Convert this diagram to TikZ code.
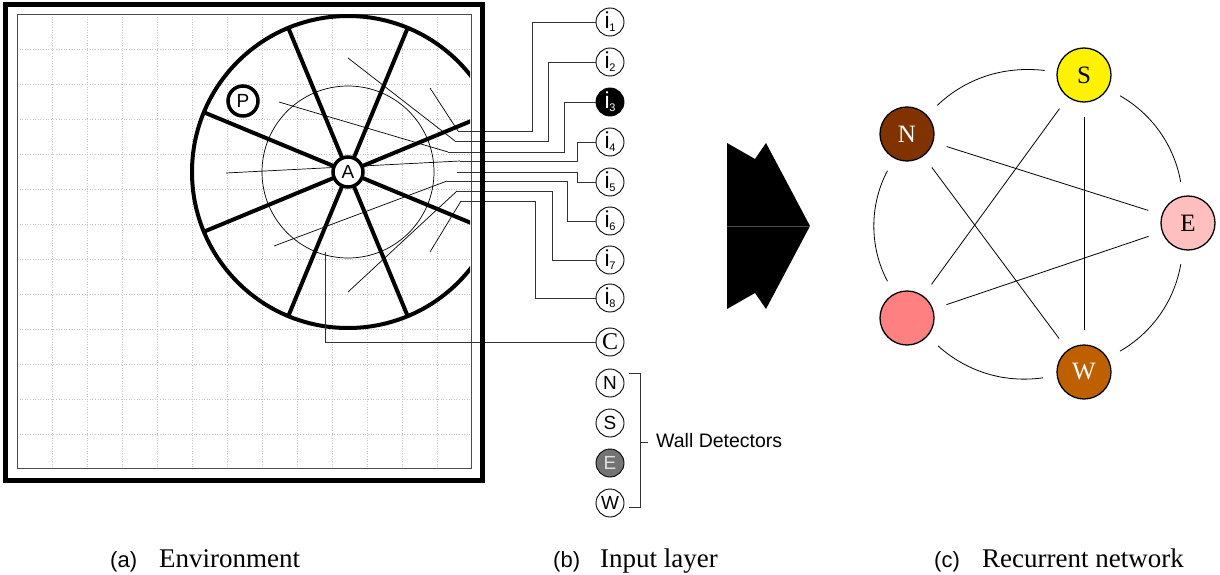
\documentclass[tikz,border=0pt]{standalone}
\usepackage{fontspec}
\setmainfont{Liberation Serif}
\setsansfont{Liberation Sans}
\usetikzlibrary{calc}
\definecolor{nbrown}{RGB}{128,51,0}
\definecolor{wbrown}{RGB}{191,96,0}
\definecolor{epink}{RGB}{255,191,191}
\definecolor{upink}{RGB}{255,128,128}
\newcommand{\isub}[1]{i\kern-0.3pt\raisebox{-3pt}{\fontsize{11}{11}\selectfont #1}}
\begin{document}
\begin{tikzpicture}[x=1pt,y=-1pt,
  gridl/.style={gray!45,dotted,line width=0.6pt},
  heavy/.style={line width=4pt},
  ray/.style={line width=0.7pt,black},
  wire/.style={line width=0.7pt,black!80},
  inode/.style={circle,draw,line width=0.9pt,minimum size=28pt,inner sep=0pt,fill=white,font=\sffamily\fontsize{23}{23}\selectfont},
  wnode/.style={circle,draw,line width=0.9pt,minimum size=28pt,inner sep=0pt,fill=white,font=\sffamily\fontsize{19}{19}\selectfont},
  agent/.style={circle,draw,line width=3.5pt,minimum size=30pt,inner sep=0pt,fill=white,font=\sffamily\fontsize{19}{19}\selectfont},
  rnode/.style={circle,draw,line width=1.3pt,minimum size=54pt,inner sep=0pt,font=\fontsize{25}{25}\selectfont},
  redge/.style={line width=0.8pt,shorten <=14pt,shorten >=14pt},
  capl/.style={anchor=base west,inner sep=0pt,font=\sffamily\fontsize{22}{22}\selectfont},
  capt/.style={anchor=base west,inner sep=0pt,font=\fontsize{27}{27}\selectfont}
]
\useasboundingbox (0,0) rectangle (1220,575);

% ---------- (a) environment ----------
\foreach \k in {1,...,12} {
  \draw[gridl] ({17+35*\k},14) -- ({17+35*\k},468);
  \draw[gridl] (17,{14+35*\k}) -- (471,{14+35*\k});
}
\draw[black!70,line width=0.8pt] (17,14) rectangle (471,468);

\coordinate (Ac) at (348,172);
\draw[line width=0.7pt] (Ac) circle[radius=86pt];

% rays
\coordinate (r1s) at (430,88);  \coordinate (r1) at (458,131);
\coordinate (r2s) at (348,58);  \coordinate (r2) at (455,141);
\coordinate (r3s) at (279,102); \coordinate (r3) at (448,152);
\coordinate (r4s) at (226,173); \coordinate (r4) at (460,161);
\coordinate (r5) at (457,172);
\coordinate (r6s) at (274,246); \coordinate (r6) at (447,181);
\coordinate (r7s) at (348,292); \coordinate (r7) at (457,191);
\coordinate (r8s) at (430,252); \coordinate (r8) at (461,201);
\coordinate (rc) at (325,252);
\foreach \n in {1,2,3,4,6,7,8} \draw[ray] (r\n s) -- (r\n);

\begin{scope}
  \clip (17,0) rectangle (470,480);
  \draw[heavy] (Ac) circle[radius=156pt];
  \foreach \a in {22.5,67.5,...,337.5} \draw[heavy] (Ac) -- ++(\a:156);
\end{scope}

\node[agent] (A) at (Ac) {A};
\node[agent] (P) at (243,101) {P};

% ---------- (b) input layer ----------
\node[inode] (i1) at (610,22) {\isub{1}};
\node[inode] (i2) at (610,62) {\isub{2}};
\node[inode,fill=black,text=white] (i3) at (610,102) {\isub{3}};
\node[inode] (i4) at (610,142) {\isub{4}};
\node[inode] (i5) at (610,182) {\isub{5}};
\node[inode] (i6) at (610,221) {\isub{6}};
\node[inode] (i7) at (610,260) {\isub{7}};
\node[inode] (i8) at (610,298) {\isub{8}};
\node[inode,font=\fontsize{24}{24}\selectfont] (C) at (610,342) {C};

\draw[wire] (r1) -- (532,131) |- (i1.west);
\draw[wire] (r2) -- (548,141) |- (i2.west);
\draw[wire] (r3) -- (564,152) |- (i3.west);
\draw[wire] (r4) -- (577,161) |- (i4.west);
\draw[wire] (r5) -- (577,172) |- (i5.west);
\draw[wire] (r6) -- (567,181) |- (i6.west);
\draw[wire] (r7) -- (552,191) |- (i7.west);
\draw[wire] (r8) -- (535,201) |- (i8.west);
\draw[wire] (rc) |- (C.west);

\draw[line width=5pt] (5,5) rectangle (482,480);

\node[wnode] (wN) at (610,383) {N};
\node[wnode] (wS) at (610,423) {S};
\node[wnode,fill=black!55,text=black!12] (wE) at (610,463) {E};
\node[wnode] (wW) at (610,503) {W};
\coordinate (bt) at (629,373);
\coordinate (bb) at (629,507);
\draw[wire] (bt) -- (640,373) -- (640,507) -- (bb);
\draw[wire] (640,442) -- (648,442);
\node[anchor=west,inner sep=0pt,font=\sffamily\fontsize{19.5}{20}\selectfont] (wd) at (656,441) {Wall Detectors};

% ---------- arrow ----------
\fill (727,143) -- (755,159) -- (766,143) -- (810,226) -- (766,309) -- (755,293) -- (727,309) -- cycle;
\draw[black!70,line width=0.4pt] (727,226) -- (810,226);

% ---------- (c) recurrent network ----------
\node[rnode,fill=yellow] (S) at (1084,75) {S};
\node[rnode,fill=nbrown,text=white] (N) at (907,134) {N};
\node[rnode,fill=epink] (E) at (1188,223) {E};
\node[rnode,fill=upink] (U) at (907,318) {};
\node[rnode,fill=wbrown,text=white] (W) at (1084,372) {W};

\draw[redge,shorten <=12pt] (S) to[bend right=25] (N);
\draw[redge] (N) to[bend right=28] (U);
\draw[redge] (U) to[bend right=25] (W);
\draw[redge] (W) to[bend right=25] (E);
\draw[redge] (E) to[bend right=25] (S);
\draw[redge] (S) -- (U);
\draw[redge] (S) -- (W);
\draw[redge] (N) -- (E);
\draw[redge] (N) -- (W);
\draw[redge] (U) -- (E);

% ---------- captions ----------
\node[capl] (ca) at (110,567) {(a)};
\node[capt] (ta) at (159,567) {Environment};
\node[capl] (cb) at (553,567) {(b)};
\node[capt] (tb) at (600,567) {Input layer};
\node[capl] (cc) at (934,567) {(c)};
\node[capt] (tc) at (982,567) {Recurrent network};
\end{tikzpicture}
\end{document}
